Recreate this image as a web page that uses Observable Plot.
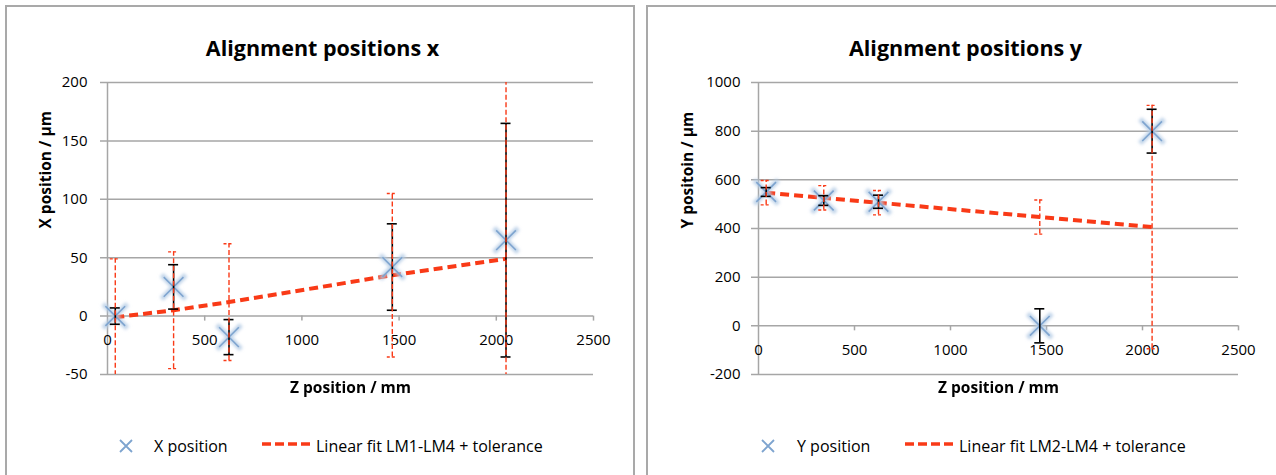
<!DOCTYPE html>
<html>
<head>
<meta charset="utf-8">
<script src="https://cdn.jsdelivr.net/npm/d3@7"></script>
<script src="https://cdn.jsdelivr.net/npm/@observablehq/plot@0.6"></script>
<style>
  html, body { margin: 0; padding: 0; background: #fff; }
  #wrap { position: relative; width: 1276px; height: 475px; overflow: hidden; font-family: "Open Sans", Lato, sans-serif; }
  .box { position: absolute; top: 5px; height: 490px; border: 2px solid #a9a9a9; border-bottom: none; box-sizing: border-box; }
  .panel { position: absolute; top: 0; }
  .legend { position: absolute; top: 434px; height: 24px; font-size: 16px; color: #000; }
  .legend span { position: absolute; top: 0; white-space: nowrap; line-height: 24px; }
  .legend svg { position: absolute; top: 0; }
</style>
</head>
<body>
<div id="wrap">
  <div class="box" style="left:5px;width:630px;"></div>
  <div class="box" style="left:646px;width:700px;"></div>
  <div class="panel" id="left" style="left:0;"></div>
  <div class="panel" id="right" style="left:640px;"></div>
  <div class="legend" id="legL" style="left:0;width:640px;"></div>
  <div class="legend" id="legR" style="left:640px;width:636px;"></div>
</div>
<script>
// ---- data ----
const zPos   = [40, 340, 625, 1465, 2050];          // Z position / mm
const xPos   = [0, 25, -18, 42, 65];                // X position / µm
const xErr   = [7, 19, 15, 37, 100];                // measurement error X
const xFit   = [-1, 5, 12, 35, 49];                 // Linear fit LM1-LM4
const xTol   = [50, 50, 50, 70, 500];               // tolerance X
const yPos   = [550, 515, 510, 0, 800];             // Y position / µm
const yErr   = [18, 20, 27, 70, 90];                // measurement error Y
const yFit   = [547, 526, 506, 447, 406];           // Linear fit LM2-LM4
const yTol   = [50, 50, 50, 70, 500];               // tolerance Y
const zTicks  = [0, 500, 1000, 1500, 2000, 2500];
const xvTicks = [-50, 0, 50, 100, 150, 200];
const yvTicks = [-200, 0, 200, 400, 600, 800, 1000];

const GRID = "#a6a6a6";
const RED = "#f93a17";
const BLUE = "#7ea4cf";
const FONT = "'Open Sans', Lato, sans-serif";

function panel(cfg) {
  const rows = zPos.map((z, i) => ({z, v: cfg.vals[i], err: cfg.err[i], fit: cfg.fit[i], tol: cfg.tol[i]}));
  const svg = Plot.plot({
    width: cfg.width, height: 475,
    marginLeft: cfg.ml, marginRight: cfg.mr, marginTop: 82, marginBottom: 101,
    x: {domain: [0, 2500], axis: null},
    y: {domain: cfg.domain, axis: null},
    style: {fontFamily: FONT, fontSize: "15px", color: "#000", background: "transparent", overflow: "visible"},
    marks: [
      Plot.ruleY(cfg.ticks, {y: d => d, stroke: GRID, strokeWidth: 1.5, insetLeft: -7}),
      Plot.ruleX([0], {stroke: GRID, strokeWidth: 1.5}),
      Plot.ruleX(zTicks.slice(1), {x: d => d, y1: 0, y2: 0, insetBottom: -5, stroke: GRID, strokeWidth: 1.5}),
      Plot.text(zTicks, {x: d => d, y: 0, dy: 24, text: d => String(d), fontSize: 15}),
      Plot.text(cfg.ticks, {y: d => d, frameAnchor: "left", dx: cfg.tdx, textAnchor: "end", text: d => String(d), fontSize: 15}),
      // fit line
      Plot.line(rows, {x: "z", y: "fit", stroke: RED, strokeWidth: 4, strokeDasharray: "9,5", strokeLinecap: "butt"}),
      // markers (glow + core)
      Plot.dot(rows, {x: "z", y: "v", symbol: "times", r: 11, stroke: "#b4cbe5", strokeWidth: 5, strokeOpacity: 0.85}),
      Plot.dot(rows, {x: "z", y: "v", symbol: "times", r: 9, stroke: BLUE, strokeWidth: 1.6}),
      // measurement error bars (black)
      Plot.ruleX(rows, {x: "z", y1: d => d.v - d.err, y2: d => d.v + d.err, stroke: "#000", strokeWidth: 1.6, clip: true}),
      Plot.ruleY(rows, {y: d => d.v + d.err, x1: "z", x2: "z", insetLeft: -5, insetRight: -5, stroke: "#000", strokeWidth: 1.6, clip: true}),
      Plot.ruleY(rows, {y: d => d.v - d.err, x1: "z", x2: "z", insetLeft: -5, insetRight: -5, stroke: "#000", strokeWidth: 1.6, clip: true}),
      // tolerance bars (red dashed)
      Plot.ruleX(rows, {x: "z", y1: d => d.fit - d.tol, y2: d => d.fit + d.tol, stroke: RED, strokeWidth: 1.4, strokeDasharray: "5,2.5", strokeLinecap: "butt", clip: true}),
      Plot.ruleY(rows, {y: d => d.fit + d.tol, x1: "z", x2: "z", insetLeft: -5, insetRight: -5, stroke: RED, strokeWidth: 1.4, strokeDasharray: "3,2", clip: true}),
      Plot.ruleY(rows, {y: d => d.fit - d.tol, x1: "z", x2: "z", insetLeft: -5, insetRight: -5, stroke: RED, strokeWidth: 1.4, strokeDasharray: "3,2", clip: true}),
      // titles and axis labels
      Plot.text([cfg.title], {frameAnchor: "top", dy: -42, dx: cfg.titleDx, fontSize: 21.5, fontWeight: "bold"}),
      Plot.text([cfg.ylabel], {frameAnchor: "left", dx: cfg.ylDx, rotate: -90, fontSize: 15.5, fontWeight: "bold"}),
      Plot.text(["Z position / mm"], {frameAnchor: "bottom", dy: 18, fontSize: 15.5, fontWeight: "bold"})
    ]
  });
  // soft glow on the marker halo
  const s = d3.select(svg);
  const id = "glow" + cfg.id;
  s.insert("defs", ":first-child").append("filter").attr("id", id)
    .attr("x", "-50%").attr("y", "-50%").attr("width", "200%").attr("height", "200%")
    .append("feGaussianBlur").attr("stdDeviation", 1.4);
  const dots = svg.querySelectorAll('g[aria-label="dot"]');
  if (dots.length) dots[0].setAttribute("filter", `url(#${id})`);
  return svg;
}

document.getElementById("left").appendChild(panel({
  id: "L", width: 640, ml: 107, mr: 47, domain: [-50, 200], ticks: xvTicks,
  vals: xPos, err: xErr, fit: xFit, tol: xTol, tdx: -20,
  title: "Alignment positions x", titleDx: -28, ylabel: "X position / µm", ylDx: -61
}));
document.getElementById("right").appendChild(panel({
  id: "R", width: 636, ml: 118, mr: 38, domain: [-200, 1000], ticks: yvTicks,
  vals: yPos, err: yErr, fit: yFit, tol: yTol, tdx: -18,
  title: "Alignment positions y", titleDx: -33, ylabel: "Y positoin / µm", ylDx: -70
}));

function legend(el, cfg) {
  el.innerHTML =
    `<svg style="left:${cfg.mx - 8}px" width="16" height="24"><path d="M2,6L14,18M14,6L2,18" stroke="${BLUE}" stroke-width="1.8"/></svg>` +
    `<span style="left:${cfg.tx}px">${cfg.series}</span>` +
    `<svg style="left:${cfg.lx}px" width="52" height="24"><line x1="0" y1="10" x2="52" y2="10" stroke="${RED}" stroke-width="3.5" stroke-dasharray="9,4"/></svg>` +
    `<span style="left:${cfg.lx + 54}px">${cfg.fit}</span>`;
}
legend(document.getElementById("legL"), {mx: 126, tx: 154, lx: 262, series: "X position", fit: "Linear fit LM1-LM4 + tolerance"});
legend(document.getElementById("legR"), {mx: 128, tx: 157, lx: 265, series: "Y position", fit: "Linear fit LM2-LM4 + tolerance"});
</script>
</body>
</html>
